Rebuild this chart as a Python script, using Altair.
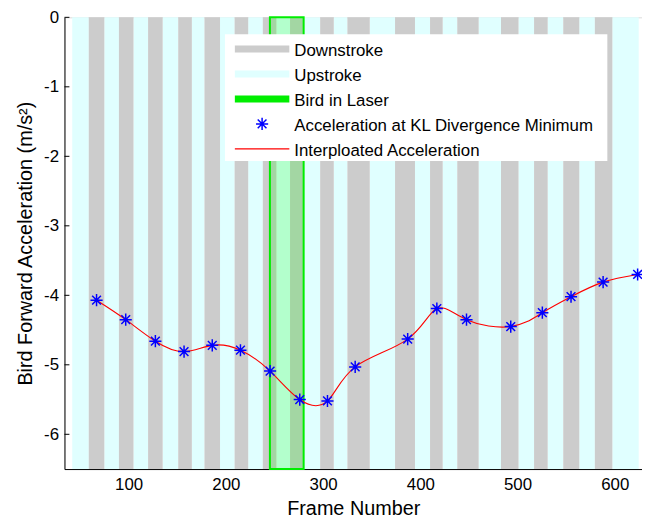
import altair as alt
import pandas as pd

FONT = "Liberation Sans"

# Downstroke (grey) intervals, frame numbers
down_start = [59, 90, 120, 151, 178, 209, 238, 266, 297, 325, 374, 410, 438, 483, 517, 547, 579.5]
down_end = [75, 105, 135, 165, 194, 223, 252, 280, 311, 348, 394.5, 423, 460, 501, 531, 563.5, 597.5]
# Upstroke (light cyan) intervals: the gaps between downstrokes
up_start = [42] + down_end
up_end = down_start + [624.6]
# Bird in laser
laser_start = [245.3]
laser_end = [280]
# Acceleration at KL divergence minimum
kl_frame = [67, 97, 127.5, 157, 186, 215, 245.5, 276, 304.5, 333, 387, 417, 447.5, 493, 525.5, 555, 588, 623.5]
kl_accel = [-4.07, -4.35, -4.66, -4.81, -4.72, -4.79, -5.09, -5.50, -5.52, -5.03,
            -4.63, -4.19, -4.35, -4.45, -4.25, -4.02, -3.81, -3.70]
x_ticks = [100, 200, 300, 400, 500, 600]
y_ticks = [0, -1, -2, -3, -4, -5, -6]
legend_labels = ["Downstroke", "Upstroke", "Bird in Laser",
                 "Acceleration at KL Divergence Minimum", "Interploated Acceleration"]

W, H = 583, 456
GREY = "#cccccc"
CYAN = "#e0ffff"
GREEN = "#00ee00"
STAR = "M0,-1L0,1M-1,0L1,0M-0.72,-0.72L0.72,0.72M-0.72,0.72L0.72,-0.72"

xs = alt.Scale(domain=[34, 628], nice=False, zero=False)
ys = alt.Scale(domain=[-6.5, 0], nice=False, zero=False)
xaxis = alt.Axis(values=x_ticks, ticks=False, grid=False, domainColor="black", domainWidth=1,
                 labelFontSize=17, labelColor="black", labelPadding=8, labelFont=FONT,
                 title="Frame Number", titleFontSize=20, titleFontWeight="normal",
                 titleColor="black", titlePadding=6, titleFont=FONT)
yaxis = alt.Axis(values=y_ticks, ticks=False, grid=False, domainColor="black", domainWidth=1,
                 labelFontSize=17, labelColor="black", labelPadding=6, labelFont=FONT,
                 labelExpr="replace(datum.label, '\u2212', '-')",
                 title="Bird Forward Acceleration (m/s\u00b2)", titleFontSize=20,
                 titleFontWeight="normal", titleColor="black", titlePadding=8, titleFont=FONT)


def X(field):
    return alt.X(field, type="quantitative", scale=xs, axis=xaxis)


def Y(field):
    return alt.Y(field, type="quantitative", scale=ys, axis=yaxis)


up_df = pd.DataFrame({"start": up_start, "end": up_end})
down_df = pd.DataFrame({"start": down_start, "end": down_end})
laser_df = pd.DataFrame({"start": laser_start, "end": laser_end})
kl_df = pd.DataFrame({"frame": kl_frame, "accel": kl_accel})
ytick_df = pd.DataFrame({"tick": y_ticks})

up = alt.Chart(up_df).mark_rect(color=CYAN).encode(
    x=X("start"), x2="end", y=alt.value(0), y2=alt.value(H))
down = alt.Chart(down_df).mark_rect(color=GREY).encode(
    x=X("start"), x2="end", y=alt.value(0), y2=alt.value(H))
laser = alt.Chart(laser_df).mark_rect(fill="#00ff00", fillOpacity=0.2, stroke=GREEN,
                                      strokeWidth=2).encode(
    x=X("start"), x2="end", y=alt.value(0), y2=alt.value(H))
line = alt.Chart(kl_df).mark_line(color="#ff0000", strokeWidth=1.1, interpolate="natural").encode(
    x=X("frame"), y=Y("accel"))
stars = alt.Chart(kl_df).mark_point(shape=STAR, size=150, color="#0000ff", strokeWidth=1.5,
                                    filled=False, opacity=1).encode(
    x=X("frame"), y=Y("accel"))
yticks = alt.Chart(ytick_df).mark_rule(color="black", strokeWidth=1).encode(
    y=Y("tick"), x=alt.value(0), x2=alt.value(5))

# Legend (drawn by hand)
LX0, LX1, LY0, LY1 = 162, 548, 17, 145
SW0, SW1, TX = 172, 227, 232
row_y = [32 + 25.2 * i for i in range(5)]

legend_layers = [
    alt.Chart(pd.DataFrame({"label": ["box"]})).mark_rect(color="white").encode(
        x=alt.value(LX0), x2=alt.value(LX1), y=alt.value(LY0), y2=alt.value(LY1))
]
swatch_styles = [(GREY, 7), (CYAN, 7), (GREEN, 7), None, ("#ff0000", 1.2)]
for i, lab in enumerate(legend_labels):
    d = pd.DataFrame({"label": [lab]})
    st = swatch_styles[i]
    if st is None:
        legend_layers.append(
            alt.Chart(d).mark_point(shape=STAR, size=150, color="#0000ff", strokeWidth=1.5,
                                    filled=False, opacity=1).encode(
                x=alt.value((SW0 + SW1) / 2), y=alt.value(row_y[i])))
    else:
        legend_layers.append(
            alt.Chart(d).mark_rule(color=st[0], strokeWidth=st[1]).encode(
                x=alt.value(SW0), x2=alt.value(SW1), y=alt.value(row_y[i])))
    legend_layers.append(
        alt.Chart(d).mark_text(align="left", baseline="middle", fontSize=17, font=FONT,
                               color="black").encode(
            x=alt.value(TX), y=alt.value(row_y[i] + 2), text="label:N"))

chart = alt.layer(up, down, laser, line, stars, yticks, *legend_layers).properties(
    width=W, height=H,
    padding={"left": 57, "top": 7, "right": 0, "bottom": 48},
    autosize=alt.AutoSizeParams(type="none"),
    background="white",
).configure_view(strokeWidth=0).configure(font=FONT)

chart.save("out.html", embed_options={"renderer": "svg", "actions": False})
